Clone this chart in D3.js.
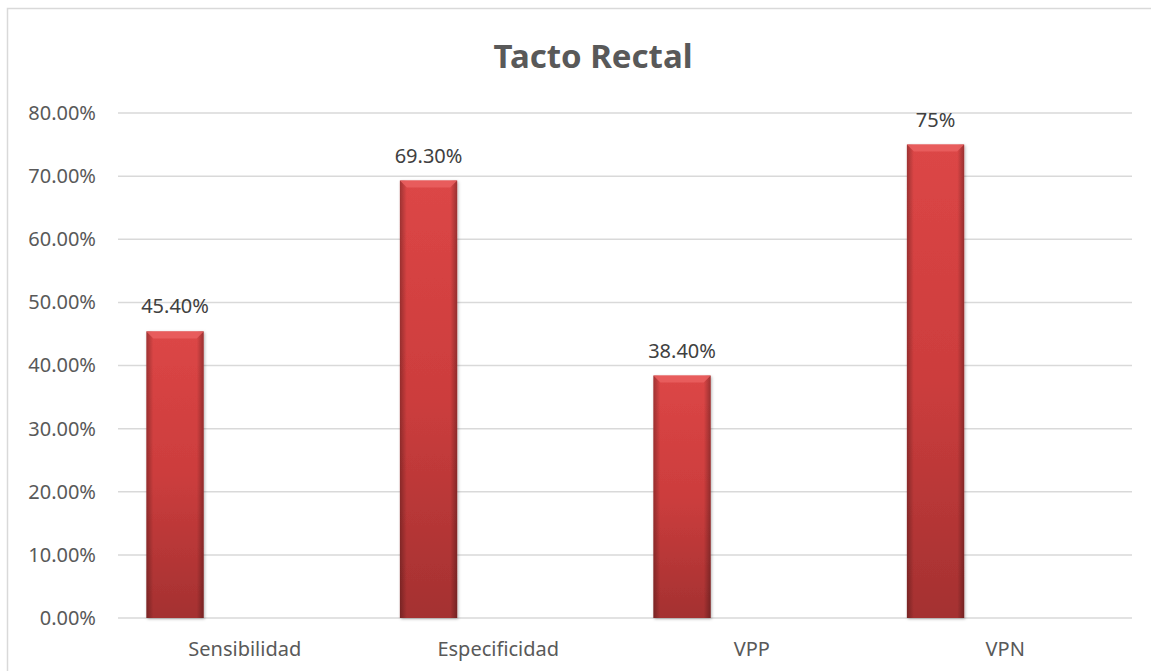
<!DOCTYPE html>
<html>
<head>
<meta charset="utf-8">
<script src="https://cdnjs.cloudflare.com/ajax/libs/d3/7.8.5/d3.min.js"></script>
<style>
  body { margin: 0; background: #fff; }
  svg { display: block; font-family: "Noto Sans", "Open Sans", sans-serif; }
</style>
</head>
<body>
<div id="chart"></div>
<script>
var categories = ["Sensibilidad", "Especificidad", "VPP", "VPN"];
var values = [45.4, 69.3, 38.4, 75];
var valueLabels = ["45.40%", "69.30%", "38.40%", "75%"];
var yTicks = [0, 10, 20, 30, 40, 50, 60, 70, 80];

var W = 1151, H = 671;
var margin = {top: 113, right: 19, bottom: 53, left: 118},
    width = W - margin.left - margin.right,
    height = H - margin.top - margin.bottom;

var svg = d3.select("#chart")
  .append("svg")
    .attr("width", W)
    .attr("height", H);

// gradients for the bevelled bars
var defs = svg.append("defs");
var gv = defs.append("linearGradient").attr("id", "barV")
  .attr("x1", 0).attr("y1", 0).attr("x2", 0).attr("y2", 1);
gv.append("stop").attr("offset", "0%").attr("stop-color", "#dc4646");
gv.append("stop").attr("offset", "50%").attr("stop-color", "#cc3d3d");
gv.append("stop").attr("offset", "100%").attr("stop-color", "#a43131");
var gh = defs.append("linearGradient").attr("id", "barH")
  .attr("x1", 0).attr("y1", 0).attr("x2", 1).attr("y2", 0);
gh.append("stop").attr("offset", "0%").attr("stop-color", "#000").attr("stop-opacity", 0.28);
gh.append("stop").attr("offset", "12%").attr("stop-color", "#000").attr("stop-opacity", 0);
gh.append("stop").attr("offset", "88%").attr("stop-color", "#000").attr("stop-opacity", 0);
gh.append("stop").attr("offset", "100%").attr("stop-color", "#000").attr("stop-opacity", 0.3);
var sh = defs.append("filter").attr("id", "shadow")
  .attr("x", "-20%").attr("y", "-5%").attr("width", "140%").attr("height", "110%");
sh.append("feDropShadow").attr("dx", 1).attr("dy", 1).attr("stdDeviation", 1.5)
  .attr("flood-color", "#000").attr("flood-opacity", 0.3);

// outer chart border
svg.append("rect")
  .attr("x", 7.5).attr("y", 8.5)
  .attr("width", W + 20).attr("height", H + 20)
  .attr("fill", "none")
  .attr("stroke", "#d9d9d9")
  .attr("stroke-width", 1.5);

// title
svg.append("text")
  .attr("x", 593).attr("y", 68)
  .attr("text-anchor", "middle")
  .attr("font-size", "33px")
  .attr("font-weight", "bold")
  .attr("fill", "#595959")
  .text("Tacto Rectal");

var g = svg.append("g")
  .attr("transform", "translate(" + margin.left + "," + margin.top + ")");

var x = d3.scaleBand()
  .domain(categories)
  .range([0, width])
  .padding(0);

var y = d3.scaleLinear()
  .domain([0, 80])
  .range([height, 0]);

// gridlines
g.selectAll(".grid")
  .data(yTicks)
  .enter()
  .append("line")
    .attr("x1", 0).attr("x2", width)
    .attr("y1", function(d) { return y(d); })
    .attr("y2", function(d) { return y(d); })
    .attr("stroke", "#d9d9d9")
    .attr("stroke-width", 1.5);

// y axis
var yAxis = g.append("g")
  .call(d3.axisLeft(y).tickValues(yTicks).tickSize(0).tickPadding(22)
    .tickFormat(function(d) { return d.toFixed(2) + "%"; }));
yAxis.select(".domain").remove();
yAxis.selectAll("text")
  .attr("font-size", "20px")
  .attr("font-family", "Noto Sans")
  .attr("fill", "#595959");

// x axis
var xAxis = g.append("g")
  .attr("transform", "translate(0," + height + ")")
  .call(d3.axisBottom(x).tickSize(0).tickPadding(24));
xAxis.select(".domain").remove();
xAxis.selectAll("text")
  .attr("font-size", "20px")
  .attr("font-family", "Noto Sans")
  .attr("fill", "#595959");

var barW = x.bandwidth() * 0.226;
var barOff = x.bandwidth() * 0.112;

var bars = g.selectAll(".bar")
  .data(categories)
  .enter()
  .append("g")
    .attr("class", "bar");

bars.append("rect")
  .attr("x", function(d) { return x(d) + barOff; })
  .attr("y", function(d, i) { return y(values[i]); })
  .attr("width", barW)
  .attr("height", function(d, i) { return height - y(values[i]); })
  .attr("fill", "url(#barV)")
  .attr("filter", "url(#shadow)");

bars.append("rect")
  .attr("x", function(d) { return x(d) + barOff; })
  .attr("y", function(d, i) { return y(values[i]); })
  .attr("width", barW)
  .attr("height", function(d, i) { return height - y(values[i]); })
  .attr("fill", "url(#barH)");

// top bevel
bars.append("path")
  .attr("d", function(d, i) {
    var x0 = x(d) + barOff, y0 = y(values[i]), b = 7;
    return "M" + x0 + "," + y0 + "L" + (x0 + barW) + "," + y0 +
      "L" + (x0 + barW - b) + "," + (y0 + b) + "L" + (x0 + b) + "," + (y0 + b) + "Z";
  })
  .attr("fill", "#ea6060")
  .attr("opacity", 0.85);

// value labels
g.selectAll(".label")
  .data(categories)
  .enter()
  .append("text")
    .attr("x", function(d) { return x(d) + barOff + barW / 2; })
    .attr("y", function(d, i) { return y(values[i]) - 18; })
    .attr("text-anchor", "middle")
    .attr("font-size", "20px")
    .attr("fill", "#404040")
    .text(function(d, i) { return valueLabels[i]; });
</script>
</body>
</html>
